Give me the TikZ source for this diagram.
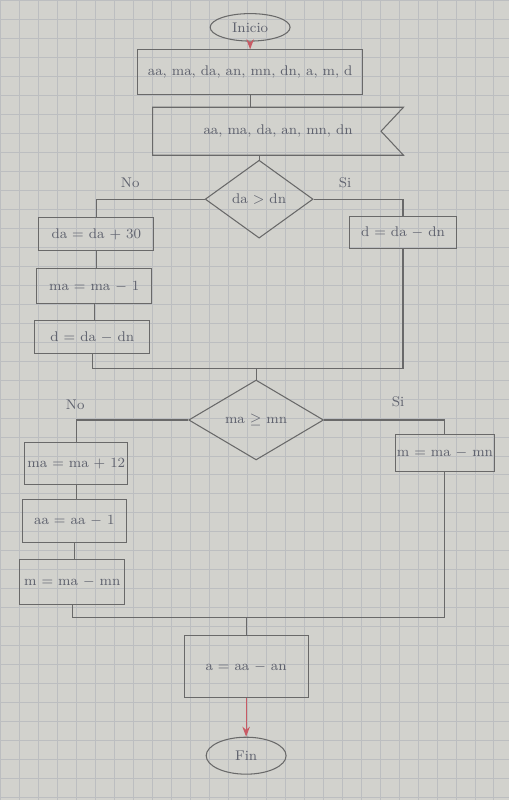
\documentclass[tikz,border=0pt]{standalone}
\usetikzlibrary{arrows.meta, positioning, shapes.geometric, calc}
\usepackage{amsmath}
\definecolor{paper}{RGB}{210,210,205}
\definecolor{gridc}{RGB}{188,190,192}
\definecolor{pencil}{RGB}{105,105,105}
\definecolor{ink}{RGB}{95,98,110}
\definecolor{redpen}{RGB}{200,90,100}

\begin{document}
\begin{tikzpicture}[
    x=0.02cm, y=-0.02cm, >=Stealth,
    line width=0.6pt, draw=pencil, text=ink,
    proc/.style={draw=pencil, minimum height=0.66cm, minimum width=2.3cm,
        inner sep=1pt, font=\footnotesize},
    cond/.style={draw=pencil, shape=diamond, inner sep=0pt, font=\footnotesize},
    term/.style={draw=pencil, ellipse, minimum width=1.6cm,
        minimum height=0.55cm, inner sep=1pt, font=\footnotesize},
    lbl/.style={font=\footnotesize, text=ink}
  ]
  % paper with grid
  \fill[paper] (0,0) rectangle (509,800);
  \draw[gridc, line width=0.4pt, step=0.38cm] (0,0) grid (509,800);
  \useasboundingbox (0,0) rectangle (509,800);

  % start and data
  \node[term] (ini) at (250,27) {Inicio};
  \node[proc, minimum width=4.5cm, minimum height=0.9cm] (in) at (250,72)
    {aa, ma, da, an, mn, dn, a, m, d};
  \node[minimum width=5cm, minimum height=0.94cm, inner sep=0pt,
        font=\footnotesize] (out) at (278,131)
    {aa, ma, da, an, mn, dn\hspace{1.3cm}};
  \draw (out.north west) -- (out.north east) -- ([xshift=-0.45cm]out.east)
    -- (out.south east) -- (out.south west) -- cycle;

  % first decision
  \node[cond, minimum width=2.16cm, minimum height=1.56cm] (d1) at (259,199)
    {da $>$ dn};
  \node[proc] (l1) at (96,234) {da = da + 30};
  \node[proc, minimum height=0.7cm] (l2) at (94,286) {ma = ma $-$ 1};
  \node[proc] (l3) at (92,337) {d = da $-$ dn};
  \node[proc, minimum width=2.14cm, minimum height=0.64cm] (r1) at (403,232)
    {d = da $-$ dn};
  \node[lbl] at (130,183) {No};
  \node[lbl] at (345,183) {Si};
  \coordinate (m1) at (256,368);

  % second decision
  \node[cond, minimum width=2.7cm, minimum height=1.6cm] (d2) at (256,420)
    {ma $\geq$ mn};
  \node[proc, minimum width=2.06cm, minimum height=0.84cm] (l4) at (76,464)
    {ma = ma + 12};
  \node[proc, minimum width=2.08cm, minimum height=0.86cm] (l5) at (74,521)
    {aa = aa $-$ 1};
  \node[proc, minimum width=2.1cm, minimum height=0.9cm] (l6) at (72,582)
    {m = ma $-$ mn};
  \node[proc, minimum width=1.94cm, minimum height=0.74cm] (r2) at (445,453)
    {m = ma $-$ mn};
  \node[lbl] at (75,405) {No};
  \node[lbl] at (398,402) {Si};
  \coordinate (m2) at (246,618);

  % result and end
  \node[proc, minimum width=2.48cm, minimum height=1.24cm] (res) at (246,667)
    {a = aa $-$ an};
  \node[term, minimum height=0.74cm] (fin) at (246,756) {Fin};

  % connectors
  \draw[->, redpen] (ini) -- (in);
  \draw (in.south) -- (in.south |- out.north);
  \draw (d1.north) -- (d1.north |- out.south);
  \draw (d1.west) -| (l1.north);
  \draw (d1.east) -| (r1.north);
  \draw (l1.south) -- (l1.south |- l2.north);
  \draw (l2.south) -- (l2.south |- l3.north);
  \draw (l3.south) |- (m1);
  \draw (r1.south) |- (m1);
  \draw (m1) -- (d2.north);
  \draw (d2.west) -| (l4.north);
  \draw (d2.east) -| (r2.north);
  \draw (l4.south) -- (l4.south |- l5.north);
  \draw (l5.south) -- (l5.south |- l6.north);
  \draw (l6.south) |- (m2);
  \draw (r2.south) |- (m2);
  \draw (m2) -- (res);
  \draw[->, redpen] (res) -- (fin);
\end{tikzpicture}
\end{document}
